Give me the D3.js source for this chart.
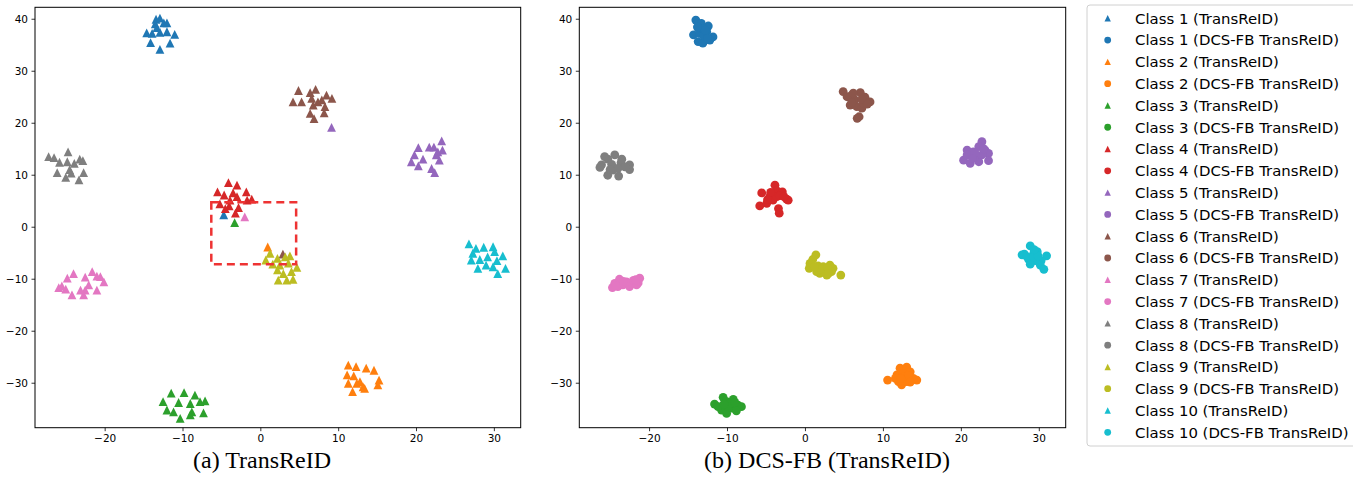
<!DOCTYPE html>
<html>
<head>
<meta charset="utf-8">
<script src="https://cdn.jsdelivr.net/npm/d3@7"></script>
<style>
  body { margin: 0; background: #fff; }
</style>
</head>
<body>
<script>
// t-SNE points, one array per class and per model
// panel (a): TransReID
const a1 = [[-13.4,39.9],[-12.9,40.1],[-13.5,39.0],[-12.4,39.2],[-12.0,39.2],[-14.6,37.3],[-13.9,37.2],[-12.9,37.4],[-12.0,37.5],[-11.0,37.0],[-14.1,35.4],[-12.9,34.1],[-11.6,35.3],[-13.3,38.3],[-4.7,2.3]];
const a2 = [[11.3,-26.6],[12.3,-26.9],[13.6,-27.2],[14.6,-27.6],[11.15,-28.5],[12.0,-28.7],[12.8,-29.8],[11.3,-30.1],[12.4,-30.1],[13.4,-31.1],[15.25,-29.5],[15.1,-30.4],[11.85,-31.7],[13.2,-30.8],[0.95,-3.9]];
const a3 = [[-11.45,-32.0],[-9.8,-31.9],[-8.4,-32.4],[-7.75,-33.65],[-7.1,-33.5],[-12.5,-33.65],[-10.5,-33.8],[-9.0,-34.0],[-12.0,-35.25],[-11.15,-35.6],[-8.8,-35.6],[-7.3,-35.8],[-10.3,-36.85],[-9.0,-36.2],[-3.3,0.8]];
const a4 = [[-4.1,8.5],[-3.0,8.0],[-5.5,6.7],[-4.65,6.1],[-3.5,6.5],[-3.0,5.8],[-1.8,6.7],[-1.1,5.3],[-5.2,4.4],[-4.0,4.0],[-2.8,3.7],[-1.7,5.1],[-3.2,2.6],[-3.9,5.1],[-4.5,3.5]];
const a5 = [[20.3,15.2],[21.7,15.3],[22.3,15.3],[23.3,16.5],[23.4,14.75],[19.8,13.8],[20.9,13.0],[22.6,13.8],[23.0,12.8],[19.4,12.5],[20.3,11.7],[22.0,11.2],[22.4,10.4],[22.8,14.4],[9.15,19.1]];
const a6 = [[4.9,26.2],[4.2,24.0],[5.3,24.0],[6.4,25.8],[7.1,26.4],[6.6,24.7],[7.9,24.4],[8.5,25.3],[9.2,24.7],[8.3,23.1],[6.8,23.4],[6.4,21.8],[6.9,20.8],[8.2,21.9],[7.4,24.0],[2.9,-5.25]];
const a7 = [[-24.0,-9.0],[-21.6,-8.65],[-21.0,-9.5],[-20.55,-9.6],[-22.5,-9.7],[-24.8,-9.9],[-25.9,-11.7],[-25.0,-12.0],[-24.2,-13.1],[-22.5,-12.2],[-22.05,-11.2],[-21.0,-12.2],[-22.7,-13.1],[-20.1,-10.6],[-25.5,-11.4],[-23.1,-12.2],[-2.0,1.9]];
const a8 = [[-27.2,13.5],[-26.5,13.3],[-25.8,12.4],[-24.7,14.4],[-24.8,12.5],[-23.9,12.2],[-23.2,13.0],[-22.8,12.7],[-26.1,10.4],[-25.0,9.5],[-24.3,10.3],[-24.5,11.0],[-23.3,9.0],[-22.7,10.4]];
const a9 = [[1.25,-5.1],[0.7,-6.4],[2.2,-6.1],[3.2,-5.8],[3.8,-5.6],[1.6,-7.2],[2.5,-7.4],[3.6,-7.0],[4.7,-7.8],[4.0,-8.65],[2.2,-8.3],[2.95,-9.0],[2.3,-10.25],[3.4,-10.25],[4.2,-10.1]];
const a10 = [[26.8,-3.3],[27.7,-4.15],[28.7,-3.95],[29.9,-3.85],[30.1,-4.8],[31.15,-5.6],[27.1,-6.4],[28.2,-6.3],[29.2,-5.8],[29.0,-7.4],[30.4,-6.5],[31.5,-8.0],[27.95,-8.0],[29.9,-7.7],[30.5,-9.0],[27.3,-5.1]];

// panel (b): DCS-FB TransReID
const b1 = [[-14.0,39.75],[-13.3,39.1],[-12.4,38.6],[-14.3,36.9],[-13.5,37.2],[-12.6,37.5],[-11.8,36.5],[-13.7,35.6],[-13.1,35.3],[-12.2,35.9],[-13.15,38.15],[-13.0,36.8],[-12.8,37.8],[-13.8,38.4],[-12.5,36.2]];
const b2 = [[10.6,-29.5],[11.8,-28.5],[12.2,-27.2],[13.05,-27.0],[13.5,-27.9],[14.35,-29.5],[12.0,-29.8],[12.4,-30.4],[13.05,-29.8],[13.9,-29.15],[12.6,-28.2],[11.6,-29.15],[12.7,-28.8],[13.3,-28.6],[12.3,-29.2],[13.5,-29.9]];
const b3 = [[-11.6,-34.1],[-10.5,-32.8],[-10.05,-33.65],[-9.2,-33.2],[-8.6,-34.3],[-8.15,-34.6],[-10.7,-35.25],[-10.05,-35.9],[-9.4,-34.9],[-8.8,-35.4],[-11.15,-34.6],[-9.6,-34.0],[-9.9,-34.6],[-9.0,-33.8],[-10.4,-34.1]];
const b4 = [[-5.55,6.5],[-4.5,5.8],[-3.85,8.0],[-3.6,6.9],[-2.9,6.7],[-2.35,5.3],[-5.8,4.0],[-4.9,4.5],[-4.1,5.1],[-3.4,3.5],[-3.3,2.6],[-2.15,5.1],[-3.6,5.8],[-4.4,6.6],[-3.2,6.0],[-4.8,5.2],[-2.7,5.8]];
const b5 = [[22.7,16.35],[22.3,15.4],[20.8,14.75],[21.6,14.4],[23.1,14.75],[23.55,14.1],[20.35,12.8],[21.2,12.2],[22.3,12.5],[23.55,12.7],[21.85,13.5],[22.7,13.8],[20.8,13.8],[21.8,14.2],[22.9,15.0],[21.5,13.1]];
const b6 = [[4.9,26.0],[6.0,25.3],[7.1,25.8],[7.7,24.9],[8.35,24.0],[5.8,23.4],[6.65,23.1],[7.3,22.8],[6.4,24.4],[7.5,23.7],[6.7,20.85],[6.95,21.15],[5.4,25.0],[6.2,25.7],[7.3,24.5],[6.0,23.9],[8.0,23.6]];
const b7 = [[-24.7,-11.7],[-23.8,-10.1],[-23.35,-11.2],[-22.7,-10.8],[-22.1,-10.9],[-21.4,-10.8],[-21.2,-9.9],[-24.0,-11.5],[-22.5,-11.5],[-21.6,-11.2],[-24.4,-10.9],[-22.9,-10.6],[-23.3,-10.5],[-22.0,-10.3],[-24.3,-11.3],[-21.7,-10.2]];
const b8 = [[-26.1,11.9],[-25.3,13.0],[-24.4,13.8],[-23.6,12.3],[-22.5,11.9],[-25.3,9.9],[-23.9,9.75],[-24.65,10.9],[-22.5,11.0],[-25.7,13.5],[-23.1,11.5],[-24.8,12.0],[-24.0,11.2],[-25.0,11.0],[-23.5,13.0],[-26.3,11.4]];
const b9 = [[1.4,-5.4],[1.0,-6.3],[0.65,-7.05],[0.55,-8.0],[1.7,-7.55],[2.35,-7.7],[3.2,-7.4],[3.6,-8.0],[1.9,-8.95],[2.8,-9.3],[2.55,-8.65],[3.4,-8.65],[4.6,-9.3],[1.5,-8.65],[2.0,-8.2],[2.9,-8.0],[1.2,-7.7],[3.0,-9.0]];
const b10 = [[28.9,-3.7],[28.15,-5.25],[29.35,-5.1],[29.8,-4.8],[31.0,-5.6],[27.85,-5.4],[28.7,-6.3],[29.55,-6.5],[30.3,-6.5],[28.9,-7.2],[30.2,-7.4],[30.65,-8.2],[28.5,-5.8],[29.3,-5.8],[29.9,-5.6],[29.4,-4.4]];

const transreid = [a1, a2, a3, a4, a5, a6, a7, a8, a9, a10];
const dcsfb = [b1, b2, b3, b4, b5, b6, b7, b8, b9, b10];
const classNames = ["Class 1","Class 2","Class 3","Class 4","Class 5","Class 6","Class 7","Class 8","Class 9","Class 10"];

// axis ticks and limits
const xTicks = [-20, -10, 0, 10, 20, 30];
const yTicks = [-30, -20, -10, 0, 10, 20, 30, 40];
const xLimits = [-28.95, 33.45];
const yLimits = [-38.65, 42.2];

// zoomed region in panel (a): x0, x1, y0, y1
const zoomBox = [-6.3, 4.6, -7.2, 4.7];

const captions = ["(a) TransReID", "(b) DCS-FB (TransReID)"];

const canvWidth = 1353, canvHeight = 482;
const svg = d3.select("body").append("svg")
    .attr("width", canvWidth)
    .attr("height", canvHeight);

const colorScale = d3.scaleOrdinal(d3.schemeCategory10).domain(d3.range(10));

// matplotlib style "^": as wide as it is tall
const mplTriangle = {
    draw(ctx, size) {
        const h = Math.sqrt(size) / 2;
        ctx.moveTo(0, -h);
        ctx.lineTo(h, h);
        ctx.lineTo(-h, h);
        ctx.closePath();
    }
};
const triPath = d3.symbol().type(mplTriangle).size(8.8 * 8.8)();
const legendTri = d3.symbol().type(mplTriangle).size(6.4 * 6.4)();

const panels = [
    {left: 35, top: 7.3, right: 520.7, bottom: 427.7, data: transreid, marker: "tri", caption: captions[0], capX: 262},
    {left: 579.3, top: 7.3, right: 1065.7, bottom: 427.7, data: dcsfb, marker: "dot", caption: captions[1], capX: 827}
];

const tickFormat = d3.format("d");

panels.forEach(function(p, pi) {
    const xScale = d3.scaleLinear().domain(xLimits).range([p.left, p.right]);
    const yScale = d3.scaleLinear().domain(yLimits).range([p.bottom, p.top]);

    const g = svg.append("g").attr("class", "panel-" + pi);

    // points
    p.data.forEach(function(pts, ci) {
        const sel = g.append("g").selectAll("path")
            .data(pts)
            .enter();
        if (p.marker === "tri") {
            sel.append("path")
                .attr("d", triPath)
                .attr("transform", d => "translate(" + xScale(d[0]) + "," + yScale(d[1]) + ")")
                .attr("fill", colorScale(ci));
        } else {
            sel.append("circle")
                .attr("cx", d => xScale(d[0]))
                .attr("cy", d => yScale(d[1]))
                .attr("r", 4.4)
                .attr("fill", colorScale(ci));
        }
    });

    // axes
    const xAxis = d3.axisBottom(xScale).tickValues(xTicks).tickSize(3.5).tickPadding(3.5).tickFormat(tickFormat);
    const yAxis = d3.axisLeft(yScale).tickValues(yTicks).tickSize(3.5).tickPadding(3.5).tickFormat(tickFormat);

    g.append("g")
        .attr("transform", "translate(0," + p.bottom + ")")
        .call(xAxis);
    g.append("g")
        .attr("transform", "translate(" + p.left + ",0)")
        .call(yAxis);

    g.selectAll(".domain").remove();
    g.selectAll(".tick line").attr("stroke", "#000").attr("stroke-width", 0.8);
    g.selectAll(".tick text")
        .attr("font-family", "DejaVu Sans")
        .attr("font-size", "10.5px")
        .attr("fill", "#000");

    // frame
    g.append("rect")
        .attr("x", p.left)
        .attr("y", p.top)
        .attr("width", p.right - p.left)
        .attr("height", p.bottom - p.top)
        .attr("fill", "none")
        .attr("stroke", "#000")
        .attr("stroke-width", 1);

    if (pi === 0) {
        g.append("rect")
            .attr("x", xScale(zoomBox[0]))
            .attr("y", yScale(zoomBox[3]))
            .attr("width", xScale(zoomBox[1]) - xScale(zoomBox[0]))
            .attr("height", yScale(zoomBox[2]) - yScale(zoomBox[3]))
            .attr("fill", "none")
            .attr("stroke", "#ee3333")
            .attr("stroke-width", 2.5)
            .attr("stroke-dasharray", "8,5");
    }

    // caption under the panel
    svg.append("text")
        .attr("x", p.capX)
        .attr("y", 468)
        .attr("font-family", "Liberation Serif")
        .attr("font-size", "24px")
        .attr("text-anchor", "middle")
        .text(p.caption);
});

// Legend
const legend = svg.append("g").attr("class", "legend");
legend.append("rect")
    .attr("x", 1087)
    .attr("y", 5)
    .attr("width", 280)
    .attr("height", 441)
    .attr("rx", 3)
    .attr("fill", "#fff")
    .attr("stroke", "#d0d0d0")
    .attr("stroke-width", 1);

const legendItems = [];
classNames.forEach(function(name, i) {
    legendItems.push({label: name + " (TransReID)", marker: "tri", ci: i});
    legendItems.push({label: name + " (DCS-FB TransReID)", marker: "dot", ci: i});
});

const rowScale = d3.scaleLinear().domain([0, legendItems.length - 1]).range([18.3, 432.3]);

const rows = legend.selectAll(".row")
    .data(legendItems)
    .enter().append("g")
    .attr("class", "row")
    .attr("transform", (d, i) => "translate(0," + rowScale(i) + ")");

rows.filter(d => d.marker === "tri").append("path")
    .attr("d", legendTri)
    .attr("transform", "translate(1107.7,0)")
    .attr("fill", d => colorScale(d.ci));
rows.filter(d => d.marker === "dot").append("circle")
    .attr("cx", 1107.7)
    .attr("cy", 0)
    .attr("r", 3.4)
    .attr("fill", d => colorScale(d.ci));

rows.append("text")
    .attr("x", 1135)
    .attr("y", 0)
    .attr("dy", "0.36em")
    .attr("font-family", "DejaVu Sans")
    .attr("font-size", "14.9px")
    .attr("fill", "#000")
    .text(d => d.label);
</script>
</body>
</html>
